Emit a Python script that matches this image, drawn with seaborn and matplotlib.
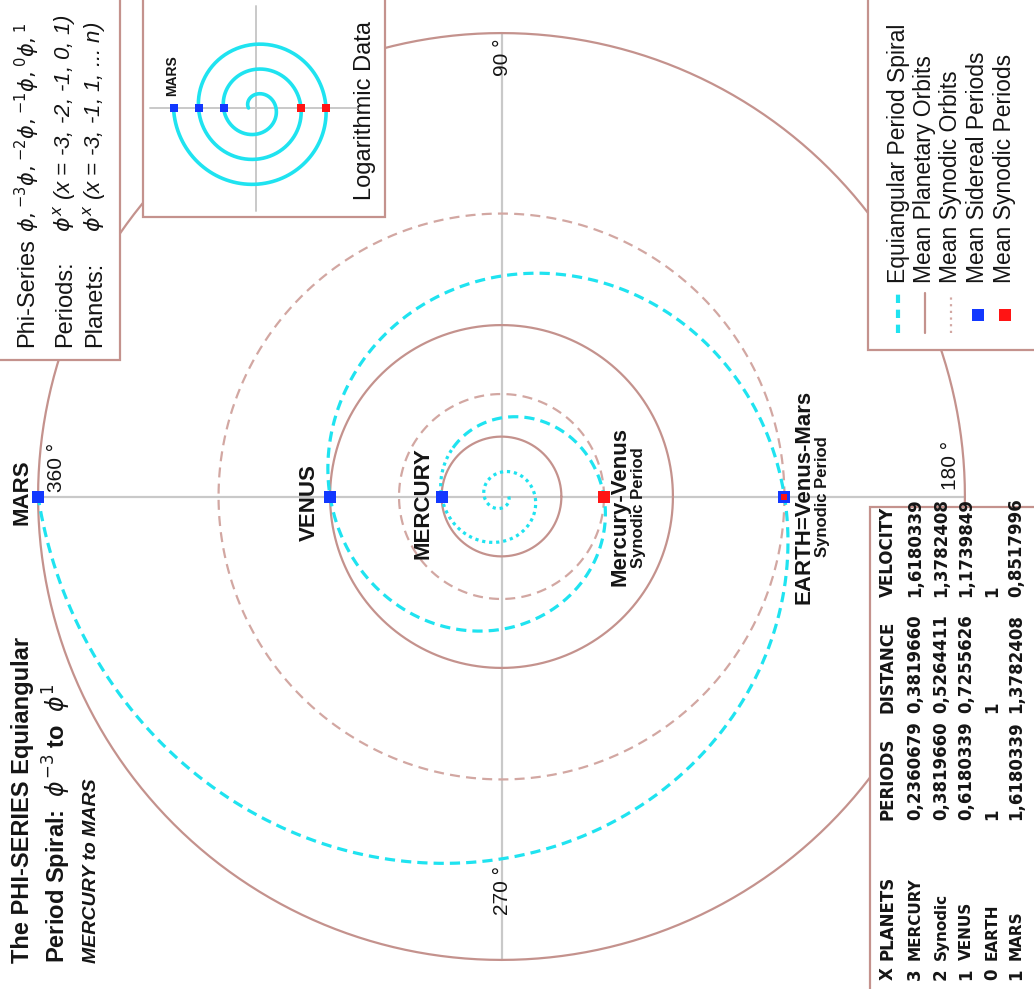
import numpy as np
import matplotlib
matplotlib.use("Agg")
import matplotlib.pyplot as plt
from matplotlib.patches import Rectangle
import seaborn as sns

# ---- values ----
phi = (1 + 5 ** 0.5) / 2
exponents = [-3, -2, -1, 0, 1]
x_col = ["3", "2", "1", "0", "1"]
names = ["MERCURY", "Synodic", "VENUS", "EARTH", "MARS"]
periods = [0.2360679, 0.3819660, 0.6180339, 1, 1.6180339]
distances = [0.3819660, 0.5264411, 0.7255626, 1, 1.3782408]
velocities = [1.6180339, 1.3782408, 1.1739849, 1, 0.8517996]
header = ["X", "PLANETS", "PERIODS", "DISTANCE", "VELOCITY"]
planet_orbits = [0.2360679, 0.6180339, 1.6180339]
synodic_orbits = [0.3819660, 1.0]
sidereal_idx = [0, 2, 3, 4]
synodic_idx = [1, 3]
r_shift = 0.031            # radii in the drawing sit this much inside the period value
spiral_start = -6          # exponent where the drawn spiral begins
dotted_until = -2.75       # inner part of the spiral is dotted
inset_offset = 5.6         # inset (log data) spiral: r = x + offset

CYAN = "#1fe3f0"
ORBIT = "#c4928d"
SYN = "#d2a7a2"
GRID = "#c9c9c9"
BLUE = "#1238ff"
RED = "#ff1414"
TXT = "#151515"

sns.set_theme(style="white")
plt.rcParams["font.family"] = ["Liberation Sans", "DejaVu Sans"]
plt.rcParams["mathtext.fontset"] = "dejavusans"

W, H = 1034, 989
fig = plt.figure(figsize=(W / 100, H / 100), dpi=100)

# main panel in period units (Earth = 1)
S = 292.0
CX, CY = 501.5, 496.5
ax = fig.add_axes([0, 0, 1, 1], zorder=1)
ax.set_xlim(-CX / S, (W - CX) / S)
ax.set_ylim(-(H - CY) / S, CY / S)
ax.axis("off")


def rad(p):
    return np.asarray(p) - r_shift


R = rad(max(periods))
ax.plot([-R, R], [0, 0], color=GRID, lw=1.6, zorder=1)
ax.plot([0, 0], [-R, R], color=GRID, lw=1.6, zorder=1)

ang = np.linspace(0, 2 * np.pi, 721)
for p in planet_orbits:
    r = rad(p)
    sns.lineplot(x=r * np.cos(ang), y=r * np.sin(ang), sort=False, estimator=None,
                 ax=ax, color=ORBIT, lw=1.6, zorder=2)
for p in synodic_orbits:
    r = rad(p)
    sns.lineplot(x=r * np.cos(ang), y=r * np.sin(ang), sort=False, estimator=None,
                 ax=ax, color=SYN, lw=1.6, linestyle=(0, (4.5, 2.8)), zorder=2)

# equiangular spiral: period phi**x, half a turn per exponent step
t = np.linspace(spiral_start, exponents[-1], 4000)
sr = rad(phi ** t)
sx, sy = sr * np.cos(-np.pi * t), sr * np.sin(-np.pi * t)
inner = t <= dotted_until
sns.lineplot(x=sx[inner], y=sy[inner], sort=False, estimator=None, ax=ax,
             color=CYAN, lw=2.3, linestyle=(0, (1, 1.2)), zorder=3)
sns.lineplot(x=sx[~inner], y=sy[~inner], sort=False, estimator=None, ax=ax,
             color=CYAN, lw=2.3, linestyle=(0, (3.2, 1.9)), zorder=3)

px = [rad(periods[i]) * np.cos(-np.pi * exponents[i]) for i in range(5)]
sns.scatterplot(x=[px[i] for i in sidereal_idx], y=[0] * len(sidereal_idx), marker="s",
                s=85, color=BLUE, linewidth=0, ax=ax, zorder=5)
sns.scatterplot(x=[px[synodic_idx[0]]], y=[0], marker="s", s=85, color=RED,
                linewidth=0, ax=ax, zorder=5)
sns.scatterplot(x=[px[synodic_idx[1]]], y=[0], marker="s", s=16, color=RED,
                linewidth=0, ax=ax, zorder=6)

# ---- overlay in pixel coordinates: labels, boxes, legend, table ----
ov = fig.add_axes([0, 0, 1, 1], zorder=2)
ov.set_xlim(0, W)
ov.set_ylim(H, 0)
ov.axis("off")


def vtext(x, y, s, ha="left", **kw):
    kw.setdefault("color", TXT)
    ov.text(x, y, s, rotation=90, rotation_mode="anchor", ha=ha, va="center", **kw)


# angle labels
vtext(502, 76, "90 °", fontsize=15)
vtext(951, 490, "180 °", fontsize=15)
vtext(502, 915, "270 °", fontsize=15)
vtext(57, 492, "360 °", fontsize=15)

# planet labels
vtext(22, 492, "MARS", ha="center", fontsize=16, weight="bold")
vtext(309, 503, "VENUS", ha="center", fontsize=16, weight="bold")
vtext(423, 503, "MERCURY", ha="center", fontsize=16, weight="bold")
vtext(620, 507, "Mercury-Venus", ha="center", fontsize=16, weight="bold")
vtext(638, 508, "Synodic Period", ha="center", fontsize=12, weight="bold")
vtext(804, 497, "EARTH=Venus-Mars", ha="center", fontsize=16, weight="bold")
vtext(822, 497, "Synodic Period", ha="center", fontsize=12, weight="bold")

# title
vtext(22, 963, "The PHI-SERIES Equiangular", fontsize=17, weight="bold")
vtext(57, 963, r"Period Spiral:  $\phi^{-3}$ to  $\phi^{1}$", fontsize=17, weight="bold")
vtext(91, 963, "MERCURY to MARS", fontsize=14, weight="bold", style="italic")

# boxes (white, cover the big orbit)
box_kw = dict(facecolor="white", edgecolor=ORBIT, lw=1.6, zorder=1)
ov.add_patch(Rectangle((-10, -10), 130, 370, **box_kw))
ov.add_patch(Rectangle((143, -10), 242, 227, **box_kw))
ov.add_patch(Rectangle((868, -10), 180, 360, **box_kw))
ov.add_patch(Rectangle((870, 507), 180, 495, **box_kw))

# phi-series box
vtext(27, 347, "Phi-Series", fontsize=17)
vtext(27, 232, r"$\phi,{}^{-3}\phi,{}^{-2}\phi,{}^{-1}\phi,{}^{0}\phi,{}^{1}$", fontsize=15)
vtext(65, 347, "Periods:", fontsize=17)
vtext(65, 232, r"$\phi^{x}$ (x = -3, -2, -1, 0, 1)", fontsize=16, style="italic")
vtext(95, 347, "Planets:", fontsize=17)
vtext(95, 232, r"$\phi^{x}$ (x = -3, -1, 1, ... n)", fontsize=16, style="italic")

# legend
leg_x = [898, 925, 951, 978, 1005]
leg_txt = ["Equiangular Period Spiral", "Mean Planetary Orbits", "Mean Synodic Orbits",
           "Mean Sidereal Periods", "Mean Synodic Periods"]
for x, s in zip(leg_x, leg_txt):
    vtext(x, 283, s, fontsize=16.5)
ov.plot([leg_x[0], leg_x[0]], [333, 293], color=CYAN, lw=3, linestyle=(0, (2, 1.6)), zorder=3)
ov.plot([leg_x[1], leg_x[1]], [333, 293], color=ORBIT, lw=1.6, zorder=3)
ov.plot([leg_x[2], leg_x[2]], [333, 293], color=SYN, lw=1.6, linestyle=(0, (1, 2)), zorder=3)
ov.scatter([leg_x[3]], [315], marker="s", s=80, color=BLUE, linewidth=0, zorder=3)
ov.scatter([leg_x[4]], [315], marker="s", s=80, color=RED, linewidth=0, zorder=3)


# table
def fmt(v):
    return "1" if v == 1 else f"{v:.7f}".replace(".", ",")


row_x = [888, 915, 941, 966, 992, 1016]
col_y = [980, 960, 820, 713, 597]
for y, s in zip(col_y, header):
    vtext(row_x[0], y, s, fontsize=12, weight="bold", family="DejaVu Sans")
for i in range(5):
    cells = [x_col[i], names[i], fmt(periods[i]), fmt(distances[i]), fmt(velocities[i])]
    for j, (y, s) in enumerate(zip(col_y, cells)):
        vtext(row_x[i + 1], y, s, fontsize=11 if j == 1 else 12, weight="bold",
              family="DejaVu Sans")

# ---- inset: logarithmic data ----
P2 = 12.5
ICX, ICY = 256, 108
ins = fig.add_axes([143 / W, 1 - 217 / H, 242 / W, 217 / H], zorder=3)
ins.set_xlim((143 - ICX) / P2, (385 - ICX) / P2)
ins.set_ylim((108 - 217) / P2, ICY / P2)
ins.axis("off")
ins.plot([-8.5, 8.1], [0, 0], color=GRID, lw=1.4, zorder=1)
ins.plot([0, 0], [-8.2, 8.2], color=GRID, lw=1.4, zorder=1)
t2 = np.linspace(-5, exponents[-1], 800)
r2 = t2 + inset_offset
sns.lineplot(x=r2 * np.cos(-np.pi * t2), y=r2 * np.sin(-np.pi * t2), sort=False,
             estimator=None, ax=ins, color=CYAN, lw=2.6, zorder=2)
ix = [(e + inset_offset) * np.cos(-np.pi * e) for e in exponents]
odd = [i for i, e in enumerate(exponents) if e % 2]
even = [i for i, e in enumerate(exponents) if e % 2 == 0]
sns.scatterplot(x=[ix[i] for i in odd], y=[0] * len(odd), marker="s", s=36,
                color=BLUE, linewidth=0, ax=ins, zorder=4)
sns.scatterplot(x=[ix[i] for i in even], y=[0] * len(even), marker="s", s=36,
                color=RED, linewidth=0, ax=ins, zorder=4)
ins.text(ix[4] - 0.1, 1.0, "MARS", rotation=90, rotation_mode="anchor", ha="left",
         va="center", fontsize=10, weight="bold", color=TXT)
vtext(365, 200, "Logarithmic Data", fontsize=17)

fig.savefig("out.png", dpi=100)
